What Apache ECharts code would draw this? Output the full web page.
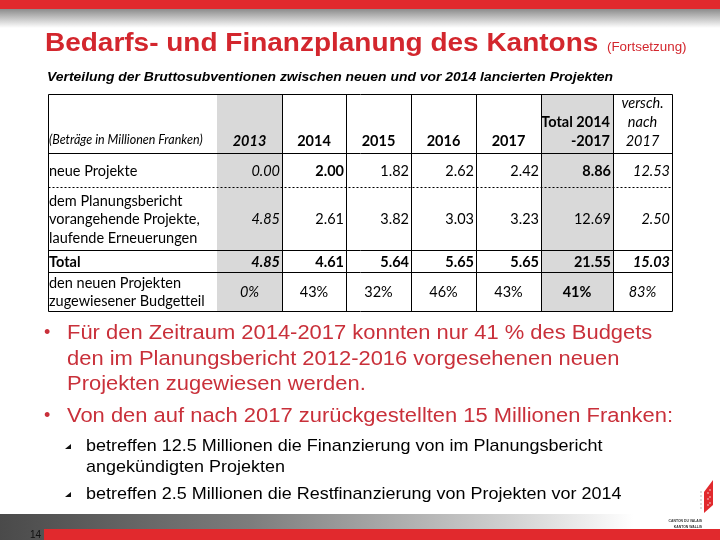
<!DOCTYPE html>
<html><head><meta charset="utf-8">
<script src="https://cdn.jsdelivr.net/npm/echarts@6/dist/echarts.min.js"></script>
<style>html,body{margin:0;padding:0;background:#fff}#c{width:720px;height:540px}</style>
</head><body><div id="c"></div>
<script>
// ---- data ----
const titleText = 'Bedarfs- und Finanzplanung des Kantons';
const titleNote = '(Fortsetzung)';
const subtitleText = 'Verteilung der Bruttosubventionen zwischen neuen und vor 2014 lancierten Projekten';
const unitNote = '(Beträge in Millionen Franken)';
const columns = ['2013', '2014', '2015', '2016', '2017', 'Total 2014\n-2017', 'versch.\nnach\n2017'];
const rowLabels = ['neue Projekte', 'dem Planungsbericht\nvorangehende Projekte,\nlaufende Erneuerungen', 'Total', 'den neuen Projekten\nzugewiesener Budgetteil'];
const neueProjekte = [0.00, 2.00, 1.82, 2.62, 2.42, 8.86, 12.53];
const vorangehendeProjekte = [4.85, 2.61, 3.82, 3.03, 3.23, 12.69, 2.50];
const totalRow = [4.85, 4.61, 5.64, 5.65, 5.65, 21.55, 15.03];
const budgetteil = [0, 43, 32, 46, 43, 41, 83];
const bullets = [
  ['Für den Zeitraum 2014-2017 konnten nur 41 % des Budgets', 'den im Planungsbericht 2012-2016 vorgesehenen neuen', 'Projekten zugewiesen werden.'],
  ['Von den auf nach 2017 zurückgestellten 15 Millionen Franken:']
];
const subBullets = [
  ['betreffen 12.5 Millionen die Finanzierung von im Planungsbericht', 'angekündigten Projekten'],
  ['betreffen 2.5 Millionen die Restfinanzierung von Projekten vor 2014']
];
const pageNumber = '14';
const logoText = ['CANTON DU VALAIS', 'KANTON WALLIS'];

// ---- layout (table geometry in grid units = px) ----
const colEdges = [0, 169, 234, 298, 363, 428, 493, 565, 624];
const rowEdges = [0, 59, 93, 156, 178, 217];
const RED = '#d3262d';
const TXT_RED = '#c9303a';
const SX = 1.07; // horizontal stretch of slide text
const tableFont = 'Lato, "Open Sans", sans-serif';
const slideFont = '"Liberation Sans", Arial, sans-serif';

// build cells
const cells = [];
cells.push({c: 0, r: 0, text: unitNote, kind: 'note'});
columns.forEach((t, i) => cells.push({c: i + 1, r: 0, text: t, kind: 'head'}));
rowLabels.forEach((t, i) => cells.push({c: 0, r: i + 1, text: t, kind: 'label'}));
[neueProjekte, vorangehendeProjekte, totalRow].forEach((arr, ri) =>
  arr.forEach((v, ci) => cells.push({c: ci + 1, r: ri + 1, text: v.toFixed(2), kind: 'num'})));
budgetteil.forEach((v, ci) => cells.push({c: ci + 1, r: 4, text: v + '%', kind: 'pct'}));

function isItalic(d) { return d.kind === 'note' || d.c === 1 || d.c === 7; }
function isBold(d) {
  if (d.kind === 'note') return false;
  if (d.r === 0) return d.c >= 1 && d.c <= 6;
  if (d.r === 3) return true;
  if (d.c === 6 && d.r !== 2) return true;
  if (d.c === 2 && d.r === 1) return true;
  return false;
}

function renderCell(params, api) {
  const d = cells[params.dataIndex];
  const p0 = api.coord([colEdges[d.c], rowEdges[d.r]]);
  const p1 = api.coord([colEdges[d.c + 1], rowEdges[d.r + 1]]);
  const x = p0[0], y = Math.min(p0[1], p1[1]);
  const w = p1[0] - p0[0], h = Math.abs(p1[1] - p0[1]);
  const children = [];
  if (d.c === 1 || d.c === 6) {
    children.push({type: 'rect', shape: {x: x, y: y, width: w, height: h}, style: {fill: '#d9d9d9'}});
  }
  let tx, ty, align, va, size = 14.5, lh = 19;
  if (d.kind === 'note') { tx = x + 1; ty = y + h - 4; align = 'left'; va = 'bottom'; size = 12.5; }
  else if (d.kind === 'head') {
    ty = y + h - 2; va = 'bottom';
    if (d.c === 6) { tx = x + w - 3; align = 'right'; }
    else { tx = x + w / 2; align = 'center'; }
  }
  else if (d.kind === 'label') { tx = x + 1; ty = y + h / 2 + 1; align = 'left'; va = 'middle'; lh = 18.5; }
  else if (d.kind === 'num') { tx = x + w - 2; ty = y + h / 2 + 1; align = 'right'; va = 'middle'; }
  else { tx = x + w / 2; ty = y + h / 2 + 1; align = 'center'; va = 'middle'; }
  children.push({type: 'text', style: {
    text: d.text, x: tx, y: ty, align: align, verticalAlign: va,
    fontFamily: tableFont, fontSize: size, lineHeight: lh,
    fontWeight: isBold(d) ? 'bold' : 'normal', fontStyle: isItalic(d) ? 'italic' : 'normal',
    fill: '#000'
  }});
  return {type: 'group', children: children};
}

// border lines: [orientation, edge index]
const lineItems = [];
rowEdges.forEach((e, i) => lineItems.push([0, i]));
colEdges.forEach((e, i) => { if (i !== 1) lineItems.push([1, i]); });
function renderLine(params, api) {
  const o = lineItems[params.dataIndex][0], i = lineItems[params.dataIndex][1];
  let a, b;
  if (o === 0) { a = api.coord([colEdges[0], rowEdges[i]]); b = api.coord([colEdges[colEdges.length - 1], rowEdges[i]]); }
  else { a = api.coord([colEdges[i], rowEdges[0]]); b = api.coord([colEdges[i], rowEdges[rowEdges.length - 1]]); }
  const off = 0.5;
  return {type: 'line', shape: {x1: Math.round(a[0]) + off, y1: Math.round(a[1]) + off, x2: Math.round(b[0]) + off, y2: Math.round(b[1]) + off},
    style: {stroke: '#000', lineWidth: 1, lineDash: (o === 0 && i === 2) ? [2, 2] : null}};
}

function slideText(t, x, y, font, fill, sx) {
  return {type: 'text', x: x, y: y, scaleX: sx || SX, style: {text: t, x: 0, y: 0, verticalAlign: 'middle', font: font, fill: fill}};
}

// ---- slide graphics ----
const g = [];
g.push({type: 'rect', shape: {x: 0, y: 0, width: 720, height: 9}, style: {fill: '#e1292d'}});
g.push({type: 'rect', shape: {x: 0, y: 9, width: 720, height: 19}, style: {fill: {type: 'linear', x: 0, y: 0, x2: 0, y2: 1, colorStops: [{offset: 0, color: '#8c8c8c'}, {offset: 1, color: '#ffffff'}]}}});
g.push({type: 'rect', shape: {x: 0, y: 514, width: 720, height: 26}, style: {fill: {type: 'linear', x: 0, y: 0, x2: 1, y2: 0, colorStops: [{offset: 0, color: '#4a4a4a'}, {offset: 0.35, color: '#7d7d7d'}, {offset: 0.7, color: '#cfcfcf'}, {offset: 0.88, color: '#ffffff'}, {offset: 1, color: '#ffffff'}]}}});
g.push({type: 'rect', shape: {x: 44, y: 529, width: 676, height: 11}, style: {fill: '#e1292d'}});
g.push({type: 'text', style: {text: pageNumber, x: 30, y: 535, verticalAlign: 'middle', font: '10px ' + slideFont, fill: '#111'}});
// logo
g.push({type: 'polygon', shape: {points: [[704, 492], [713, 480], [713, 505], [704, 513]]}, style: {fill: '#e1292d'}});
[[708, 493], [710, 490], [708, 499], [710, 497], [708, 505], [710, 503]].forEach(p => g.push({type: 'circle', shape: {cx: p[0], cy: p[1], r: 0.7}, style: {fill: '#fff'}}));
[492, 496, 500, 504, 508].forEach(yy => g.push({type: 'circle', shape: {cx: 701, cy: yy, r: 0.7}, style: {fill: '#999'}}));
g.push({type: 'text', style: {text: logoText[0], x: 702, y: 521, align: 'right', verticalAlign: 'middle', font: 'bold 3.4px ' + slideFont, fill: '#333'}});
g.push({type: 'text', style: {text: logoText[1], x: 702, y: 527, align: 'right', verticalAlign: 'middle', font: 'bold 3.4px ' + slideFont, fill: '#333'}});
// title
g.push(slideText(titleText, 45, 44, 'bold 26px ' + slideFont, RED, 1.076));
g.push(slideText(titleNote, 607, 48, '12.5px ' + slideFont, RED));
g.push(slideText(subtitleText, 47, 77, 'italic bold 13px ' + slideFont, '#000'));
// bullets
const bulletY = [[333, 359, 384], [416]];
bullets.forEach((lines, bi) => {
  g.push({type: 'text', style: {text: '•', x: 44, y: bulletY[bi][0], verticalAlign: 'middle', font: '18px ' + slideFont, fill: TXT_RED}});
  lines.forEach((t, li) => g.push(slideText(t, 67, bulletY[bi][li], '20.5px ' + slideFont, TXT_RED)));
});
const subY = [[446, 467], [494]];
subBullets.forEach((lines, bi) => {
  const y0 = subY[bi][0];
  g.push({type: 'polygon', shape: {points: [[71, y0 - 2], [71, y0 + 3], [65, y0 + 3]]}, style: {fill: '#111'}});
  lines.forEach((t, li) => g.push(slideText(t, 86, subY[bi][li], '17px ' + slideFont, '#000', 1.058)));
});

const chart = echarts.init(document.getElementById('c'), null, {renderer: 'canvas'});
chart.setOption({
  backgroundColor: '#fff',
  animation: false,
  grid: {left: 48, top: 94, width: 624, height: 217},
  xAxis: {type: 'value', min: 0, max: 624, show: false},
  yAxis: {type: 'value', min: 0, max: 217, inverse: true, show: false},
  graphic: g,
  series: [
    {type: 'custom', clip: false, renderItem: renderCell, data: cells.map(d => [d.c, d.r]), z: 2},
    {type: 'custom', clip: false, renderItem: renderLine, data: lineItems, z: 3}
  ]
});
</script></body></html>
